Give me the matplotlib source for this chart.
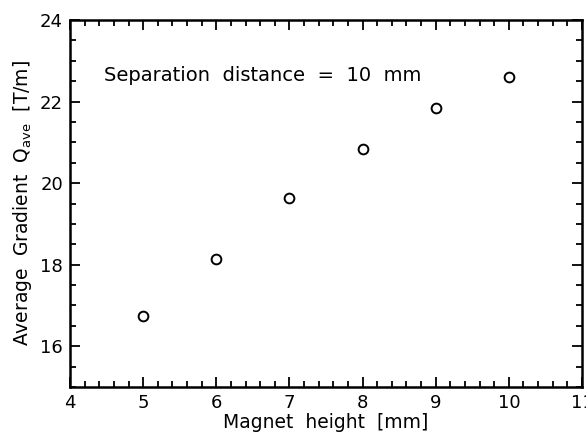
import matplotlib
matplotlib.use("Agg")
import matplotlib.pyplot as plt
from matplotlib.ticker import MultipleLocator

magnet_height = [5, 6, 7, 8, 9, 10]
gradient = [16.74, 18.13, 19.63, 20.83, 21.85, 22.61]

fig = plt.figure(figsize=(5.86, 4.34), dpi=100)
ax = fig.add_axes([70/586, 1-387/434, (582-70)/586, (387-20)/434])
ax.plot(magnet_height, gradient, linestyle='none', marker='o', markersize=7,
        markerfacecolor='white', markeredgecolor='black', markeredgewidth=1.4)
ax.set_xlim(4, 11)
ax.set_ylim(15, 24)
ax.xaxis.set_major_locator(MultipleLocator(1))
ax.xaxis.set_minor_locator(MultipleLocator(0.2))
ax.yaxis.set_major_locator(MultipleLocator(2))
ax.yaxis.set_minor_locator(MultipleLocator(0.5))
ax.tick_params(which='both', direction='in', top=True, right=True, labelsize=13, width=1.3)
ax.tick_params(which='major', length=7.5, pad=5)
ax.tick_params(which='minor', length=4)
for s in ax.spines.values():
    s.set_linewidth(1.8)
ax.set_xlabel('Magnet  height  [mm]', fontsize=13.5, labelpad=1)
ax.set_ylabel(r'Average  Gradient  Q$_{\rm ave}$  [T/m]', fontsize=13.5, labelpad=4)
ax.text(4.47, 22.64, 'Separation  distance  =  10  mm', fontsize=14, va='center', ha='left')
fig.savefig('out.png', dpi=100)
